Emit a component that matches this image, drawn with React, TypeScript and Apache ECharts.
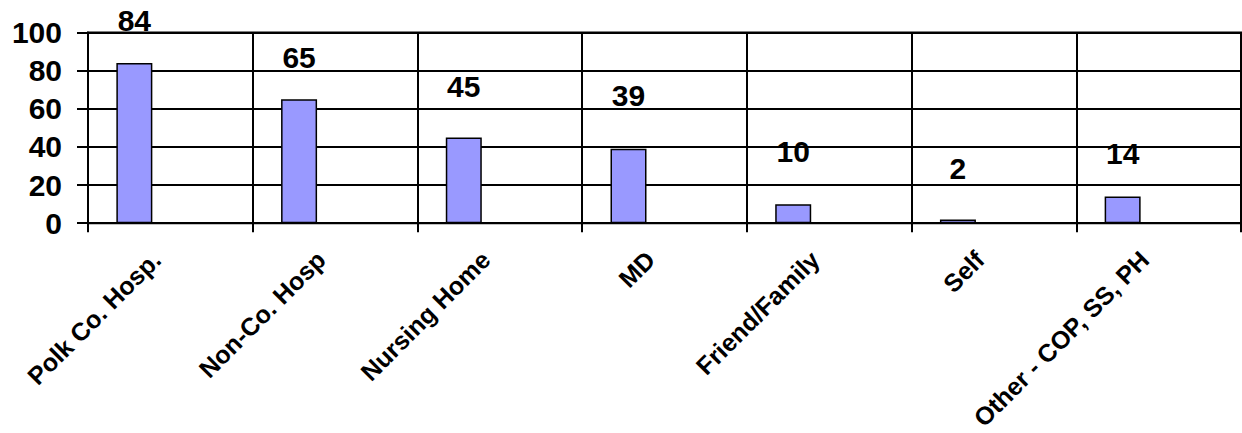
import React, { useEffect, useRef } from "react";
import * as echarts from "echarts";

const categories = [
  "Polk Co. Hosp.",
  "Non-Co. Hosp",
  "Nursing Home",
  "MD",
  "Friend/Family",
  "Self",
  "Other - COP, SS, PH",
];
const values = [84, 65, 45, 39, 10, 2, 14];
const emptySeries = [null, null, null, null, null, null, null];
const yMin = 0;
const yMax = 100;
const yInterval = 20;

// label gap above each bar (layout only)
const labelDistances = [28, 27, 36, 38, 38, 36, 28];

const FONT = "'Liberation Sans', Arial, sans-serif";

export default function App() {
  const ref = useRef<HTMLDivElement>(null);
  useEffect(() => {
    if (!ref.current) return;
    const chart = echarts.init(ref.current, undefined, { renderer: "svg" });
    const barData = values.map((v, i) => ({
      value: v,
      label: { distance: labelDistances[i] },
    }));
    chart.setOption({
      animation: false,
      backgroundColor: "#ffffff",
      grid: {
        left: 88,
        right: 1,
        top: 32.5,
        bottom: 209,
        containLabel: false,
        show: true,
        borderColor: "#000",
        borderWidth: 2,
        backgroundColor: "transparent",
      },
      xAxis: {
        type: "category",
        data: categories,
        boundaryGap: true,
        axisLine: { show: true, lineStyle: { color: "#000", width: 2 } },
        axisTick: { show: true, length: 9, lineStyle: { color: "#000", width: 2 } },
        splitLine: { show: true, lineStyle: { color: "#000", width: 2 } },
        axisLabel: {
          interval: 0,
          rotate: 45,
          margin: 18,
          padding: [0, 20, 0, 0],
          color: "#000",
          fontFamily: FONT,
          fontWeight: "bold",
          fontSize: 25,
        },
      },
      yAxis: {
        type: "value",
        min: yMin,
        max: yMax,
        interval: yInterval,
        axisLine: { show: true, lineStyle: { color: "#000", width: 2 } },
        axisTick: { show: true, length: 11, lineStyle: { color: "#000", width: 2 } },
        splitLine: { show: true, lineStyle: { color: "#000", width: 2 } },
        axisLabel: {
          margin: 26,
          color: "#000",
          fontFamily: FONT,
          fontWeight: "bold",
          fontSize: 30,
        },
      },
      series: [
        {
          type: "bar",
          data: barData,
          barWidth: 36,
          barGap: "100%",
          itemStyle: { color: "#9999FF", borderColor: "#000", borderWidth: 1.5 },
          label: {
            show: true,
            position: "top",
            color: "#000",
            fontFamily: FONT,
            fontWeight: "bold",
            fontSize: 30,
          },
        },
        {
          type: "bar",
          data: emptySeries,
          barWidth: 36,
          barGap: "100%",
          itemStyle: { color: "transparent" },
        },
      ],
    });
    return () => chart.dispose();
  }, []);
  return (
    <div
      ref={ref}
      style={{ position: "fixed", left: 0, top: 0, width: 1242, height: 433, background: "#fff" }}
    />
  );
}
